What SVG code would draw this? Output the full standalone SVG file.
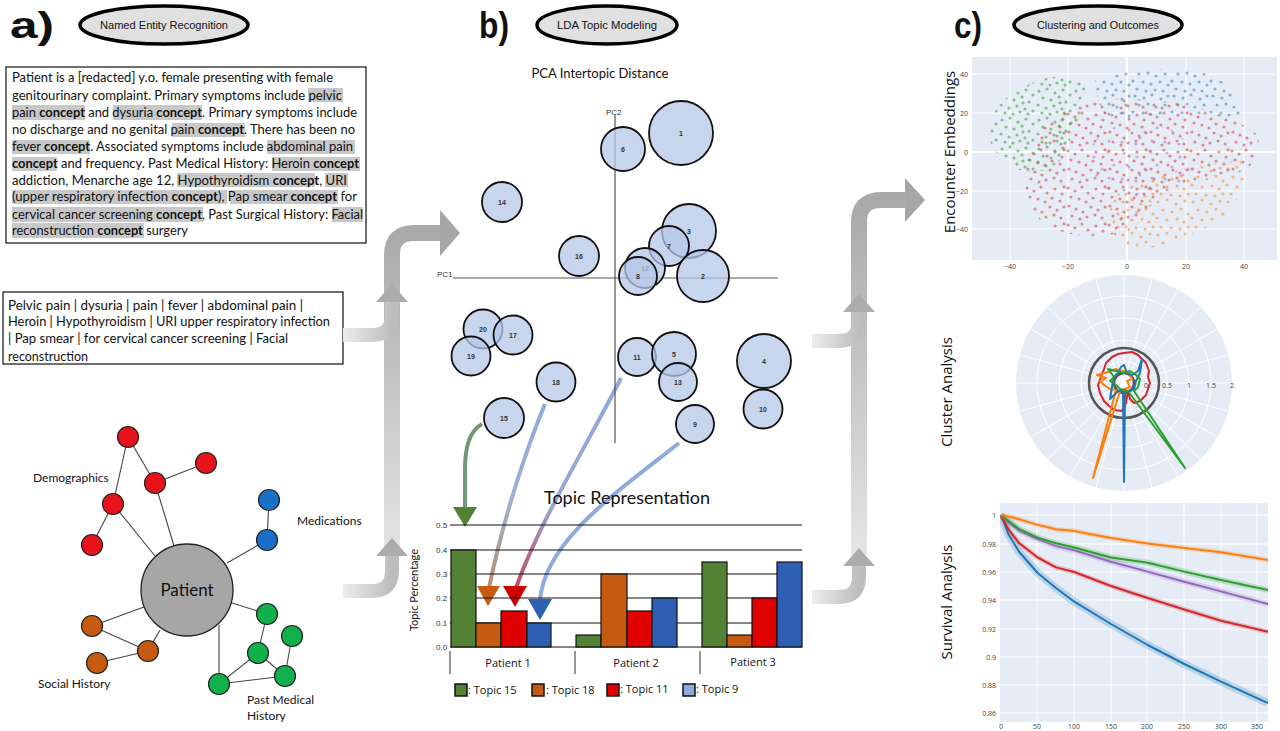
<svg xmlns="http://www.w3.org/2000/svg" width="1280" height="731" viewBox="0 0 1280 731">
<style>
.hdr{fill:#e0e0e0;stroke:#000;stroke-width:3.5}
.hdrt{font-family:"Liberation Sans",Arial,sans-serif;font-size:11px;fill:#111;text-anchor:middle}
.lbl{font-family:"Liberation Sans",Arial,sans-serif;font-size:36px;font-weight:bold;fill:#111}
.box{fill:#fff;stroke:#222;stroke-width:1.3}
.bt{font-family:Lato,"Liberation Sans",sans-serif;font-size:12.5px;fill:#111}
.b{font-weight:bold}
.hl{fill:#c8c8c8}
.edge{stroke:#444;stroke-width:1.1;fill:none}
.nd{stroke:#222;stroke-width:1.2}
.red{fill:#e8121b}.blu{fill:#1c6fc6}.org{fill:#c55a11}.grn{fill:#12b04c}
.nl{font-family:Lato,"Liberation Sans",sans-serif;font-size:12px;fill:#111}
.tc{fill:#b4c7e7;fill-opacity:0.75;stroke:#111;stroke-width:1.8}
.tn{font-family:"Liberation Sans",Arial,sans-serif;font-size:7px;fill:#333;text-anchor:middle;font-weight:bold}
.ax{stroke:#555;stroke-width:1.2}
.sm{font-family:"Liberation Sans",Arial,sans-serif;font-size:8px;fill:#333}
.gl{stroke:#111;stroke-width:1.2}
.bar{stroke:#111;stroke-width:1.2}
.pl{font-family:"Open Sans","Liberation Sans",sans-serif;font-size:11px;fill:#111;text-anchor:middle}
.lg{font-family:"Open Sans","Liberation Sans",sans-serif;font-size:11px;fill:#111}
.tick{font-family:"Open Sans","Liberation Sans",sans-serif;font-size:7px;fill:#444}
.ptitle{font-family:"Open Sans","Liberation Sans",sans-serif;font-size:15px;fill:#111;text-anchor:middle}
.wg{stroke:#fff;stroke-width:1}
.sv{fill:none;stroke-width:2;stroke-linejoin:round}
.band{fill:none;stroke-linejoin:round;stroke-opacity:0.22}
.rd{fill:none;stroke-width:2;stroke-linejoin:round}
</style>
<defs>
<linearGradient id="gColL" gradientUnits="userSpaceOnUse" x1="0" y1="560" x2="0" y2="230"><stop offset="0" stop-color="#e6e6e6"/><stop offset="1" stop-color="#a9a9a9"/></linearGradient>
<linearGradient id="gColR" gradientUnits="userSpaceOnUse" x1="0" y1="560" x2="0" y2="200"><stop offset="0" stop-color="#e6e6e6"/><stop offset="1" stop-color="#a9a9a9"/></linearGradient>
<linearGradient id="gFeedL" gradientUnits="userSpaceOnUse" x1="343" y1="0" x2="392" y2="0"><stop offset="0" stop-color="#ececec"/><stop offset="1" stop-color="#bdbdbd"/></linearGradient>
<linearGradient id="gFeedR" gradientUnits="userSpaceOnUse" x1="812" y1="0" x2="859" y2="0"><stop offset="0" stop-color="#ececec"/><stop offset="1" stop-color="#bdbdbd"/></linearGradient>
<linearGradient id="gOr" gradientUnits="userSpaceOnUse" x1="0" y1="404" x2="0" y2="590"><stop offset="0" stop-color="#8faadc"/><stop offset="0.55" stop-color="#9fb0d0"/><stop offset="1" stop-color="#c08a68"/></linearGradient>
<linearGradient id="gRe" gradientUnits="userSpaceOnUse" x1="0" y1="378" x2="0" y2="590"><stop offset="0" stop-color="#8faadc"/><stop offset="0.6" stop-color="#9aa6d0"/><stop offset="1" stop-color="#c0485a"/></linearGradient>
<pattern id="pG" width="37" height="29" patternUnits="userSpaceOnUse"><g fill="#2ca02c" fill-opacity="0.55"><circle cx="3" cy="4" r="1.6"/><circle cx="11" cy="2" r="1.6"/><circle cx="19" cy="6" r="1.6"/><circle cx="27" cy="3" r="1.6"/><circle cx="34" cy="8" r="1.6"/><circle cx="7" cy="11" r="1.6"/><circle cx="15" cy="13" r="1.6"/><circle cx="23" cy="10" r="1.6"/><circle cx="30" cy="15" r="1.6"/><circle cx="2" cy="18" r="1.6"/><circle cx="10" cy="21" r="1.6"/><circle cx="18" cy="19" r="1.6"/><circle cx="26" cy="22" r="1.6"/><circle cx="34" cy="24" r="1.6"/><circle cx="6" cy="26" r="1.6"/><circle cx="14" cy="27" r="1.6"/><circle cx="21" cy="25" r="1.6"/><circle cx="29" cy="27" r="1.6"/><circle cx="24" cy="16" r="1.6"/></g></pattern>
<pattern id="pB" width="39" height="31" patternUnits="userSpaceOnUse"><g fill="#1f77b4" fill-opacity="0.5"><circle cx="4" cy="3" r="1.6"/><circle cx="13" cy="5" r="1.6"/><circle cx="21" cy="2" r="1.6"/><circle cx="30" cy="6" r="1.6"/><circle cx="37" cy="3" r="1.6"/><circle cx="8" cy="12" r="1.6"/><circle cx="17" cy="11" r="1.6"/><circle cx="25" cy="14" r="1.6"/><circle cx="34" cy="12" r="1.6"/><circle cx="2" cy="19" r="1.6"/><circle cx="12" cy="20" r="1.6"/><circle cx="20" cy="22" r="1.6"/><circle cx="29" cy="20" r="1.6"/><circle cx="37" cy="23" r="1.6"/><circle cx="6" cy="27" r="1.6"/><circle cx="15" cy="29" r="1.6"/><circle cx="24" cy="28" r="1.6"/><circle cx="32" cy="29" r="1.6"/></g></pattern>
<pattern id="pR" width="41" height="37" patternUnits="userSpaceOnUse"><g fill="#d62728" fill-opacity="0.5"><circle cx="2" cy="3" r="1.6"/><circle cx="9" cy="6" r="1.6"/><circle cx="16" cy="2" r="1.6"/><circle cx="22" cy="8" r="1.6"/><circle cx="30" cy="4" r="1.6"/><circle cx="37" cy="9" r="1.6"/><circle cx="5" cy="12" r="1.6"/><circle cx="13" cy="14" r="1.6"/><circle cx="20" cy="17" r="1.6"/><circle cx="27" cy="13" r="1.6"/><circle cx="35" cy="16" r="1.6"/><circle cx="3" cy="21" r="1.6"/><circle cx="10" cy="24" r="1.6"/><circle cx="17" cy="27" r="1.6"/><circle cx="25" cy="22" r="1.6"/><circle cx="32" cy="25" r="1.6"/><circle cx="39" cy="22" r="1.6"/><circle cx="6" cy="31" r="1.6"/><circle cx="14" cy="34" r="1.6"/><circle cx="21" cy="32" r="1.6"/><circle cx="29" cy="30" r="1.6"/><circle cx="36" cy="33" r="1.6"/><circle cx="39" cy="1.8" r="1.6"/></g></pattern>
<pattern id="pO" width="35" height="33" patternUnits="userSpaceOnUse"><g fill="#ff7f0e" fill-opacity="0.5"><circle cx="3" cy="4" r="1.6"/><circle cx="12" cy="2" r="1.6"/><circle cx="21" cy="6" r="1.6"/><circle cx="30" cy="3" r="1.6"/><circle cx="8" cy="12" r="1.6"/><circle cx="17" cy="14" r="1.6"/><circle cx="26" cy="11" r="1.6"/><circle cx="33" cy="16" r="1.6"/><circle cx="2" cy="20" r="1.6"/><circle cx="12" cy="22" r="1.6"/><circle cx="22" cy="21" r="1.6"/><circle cx="29" cy="24" r="1.6"/><circle cx="6" cy="29" r="1.6"/><circle cx="16" cy="30" r="1.6"/><circle cx="25" cy="31" r="1.6"/><circle cx="33" cy="29" r="1.6"/></g></pattern>
<pattern id="pP" width="43" height="37" patternUnits="userSpaceOnUse"><g fill="#9467bd" fill-opacity="0.45"><circle cx="6" cy="5" r="1.6"/><circle cx="19" cy="9" r="1.6"/><circle cx="33" cy="4" r="1.6"/><circle cx="11" cy="19" r="1.6"/><circle cx="27" cy="21" r="1.6"/><circle cx="39" cy="17" r="1.6"/><circle cx="4" cy="31" r="1.6"/><circle cx="18" cy="33" r="1.6"/><circle cx="34" cy="30" r="1.6"/><circle cx="22" cy="27" r="1.6"/></g></pattern>
<clipPath id="scClip"><rect x="972" y="57" width="305" height="203"/></clipPath>
<clipPath id="svClip"><rect x="1000" y="503" width="268" height="219"/></clipPath>
</defs>

<rect x="0" y="0" width="1280" height="731" fill="#fff"/>

<!-- Headers -->
<g id="header-a">
<text class="lbl" x="10" y="38" textLength="44" lengthAdjust="spacingAndGlyphs">a)</text>
<ellipse class="hdr" cx="164" cy="25" rx="84" ry="19"/>
<text class="hdrt" x="164" y="29" textLength="128" lengthAdjust="spacingAndGlyphs">Named Entity Recognition</text>
</g>
<g id="header-b">
<text class="lbl" x="479" y="38" textLength="30" lengthAdjust="spacingAndGlyphs">b)</text>
<ellipse class="hdr" cx="607" cy="25" rx="70" ry="19"/>
<text class="hdrt" x="607" y="29" textLength="100" lengthAdjust="spacingAndGlyphs">LDA Topic Modeling</text>
</g>
<g id="header-c">
<text class="lbl" x="954" y="38" textLength="28" lengthAdjust="spacingAndGlyphs">c)</text>
<ellipse class="hdr" cx="1098" cy="25" rx="84" ry="19"/>
<text class="hdrt" x="1098" y="29" textLength="122" lengthAdjust="spacingAndGlyphs">Clustering and Outcomes</text>
</g>

<!-- Clinical note text box -->
<g id="note-box">
<rect class="box" x="6" y="67" width="360" height="176"/>
<rect class="hl" x="308" y="88" width="35" height="14"/>
<rect class="hl" x="12" y="105" width="73" height="15"/>
<rect class="hl" x="113" y="105" width="89" height="15"/>
<rect class="hl" x="172" y="123" width="73" height="14"/>
<rect class="hl" x="12" y="140" width="78" height="14"/>
<rect class="hl" x="267" y="140" width="88" height="14"/>
<rect class="hl" x="12" y="157" width="45" height="14"/>
<rect class="hl" x="272" y="157" width="88" height="14"/>
<rect class="hl" x="177" y="173" width="138" height="14"/>
<rect class="hl" x="325" y="173" width="23" height="14"/>
<rect class="hl" x="12" y="190" width="215" height="14"/>
<rect class="hl" x="230" y="190" width="108" height="14"/>
<rect class="hl" x="12" y="207" width="191" height="15"/>
<rect class="hl" x="332" y="207" width="31" height="15"/>
<rect class="hl" x="12" y="223" width="132" height="15"/>
<text class="bt" x="12" y="82" textLength="321" lengthAdjust="spacingAndGlyphs">Patient is a [redacted] y.o. female presenting with female</text>
<text class="bt" x="12" y="99.5" textLength="330" lengthAdjust="spacingAndGlyphs">genitourinary complaint. Primary symptoms include  pelvic</text>
<text class="bt" x="12" y="117" textLength="345" lengthAdjust="spacingAndGlyphs">pain <tspan class="b">concept</tspan> and dysuria <tspan class="b">concept</tspan>. Primary symptoms include</text>
<text class="bt" x="12" y="134" textLength="343" lengthAdjust="spacingAndGlyphs">no discharge and no genital pain <tspan class="b">concept</tspan>. There has been no</text>
<text class="bt" x="12" y="151" textLength="341" lengthAdjust="spacingAndGlyphs">fever <tspan class="b">concept</tspan>. Associated symptoms include abdominal pain</text>
<text class="bt" x="12" y="168" textLength="347" lengthAdjust="spacingAndGlyphs"><tspan class="b">concept</tspan> and frequency. Past Medical History: Heroin <tspan class="b">concept</tspan></text>
<text class="bt" x="12" y="184.5" textLength="335" lengthAdjust="spacingAndGlyphs">addiction, Menarche age 12, Hypothyroidism <tspan class="b">concept</tspan>, URI</text>
<text class="bt" x="12" y="201" textLength="345" lengthAdjust="spacingAndGlyphs">(upper respiratory infection <tspan class="b">concept</tspan>), Pap smear <tspan class="b">concept</tspan> for</text>
<text class="bt" x="12" y="218.5" textLength="351" lengthAdjust="spacingAndGlyphs">cervical cancer screening <tspan class="b">concept</tspan>, Past Surgical History: Facial</text>
<text class="bt" x="12" y="235" textLength="176" lengthAdjust="spacingAndGlyphs">reconstruction <tspan class="b">concept</tspan> surgery</text>
</g>

<!-- Concept list box -->
<g id="concept-box">
<rect class="box" x="3" y="292" width="340" height="72"/>
<text class="bt" x="8" y="309.5" textLength="295" lengthAdjust="spacingAndGlyphs">Pelvic pain | dysuria | pain | fever | abdominal pain |</text>
<text class="bt" x="8" y="326" textLength="322" lengthAdjust="spacingAndGlyphs">Heroin | Hypothyroidism | URI upper respiratory infection</text>
<text class="bt" x="8" y="343" textLength="280" lengthAdjust="spacingAndGlyphs">| Pap smear | for cervical cancer screening | Facial</text>
<text class="bt" x="8" y="360.5" textLength="80" lengthAdjust="spacingAndGlyphs">reconstruction</text>
</g>

<!-- Patient graph -->
<g id="patient-graph">
<g class="edges">
<line class="edge" x1="128" y1="437" x2="155" y2="483"/>
<line class="edge" x1="128" y1="437" x2="113" y2="504"/>
<line class="edge" x1="155" y1="483" x2="206" y2="463"/>
<line class="edge" x1="155" y1="483" x2="174" y2="546"/>
<line class="edge" x1="113" y1="504" x2="92" y2="545"/>
<line class="edge" x1="113" y1="504" x2="155" y2="556"/>
<line class="edge" x1="269" y1="500" x2="267" y2="540"/>
<line class="edge" x1="267" y1="540" x2="227" y2="563"/>
<line class="edge" x1="144" y1="607" x2="92" y2="626"/>
<line class="edge" x1="160" y1="630" x2="148" y2="651"/>
<line class="edge" x1="92" y1="626" x2="148" y2="651"/>
<line class="edge" x1="97" y1="663" x2="148" y2="651"/>
<line class="edge" x1="232" y1="603" x2="267" y2="614"/>
<line class="edge" x1="267" y1="614" x2="258" y2="653"/>
<line class="edge" x1="219" y1="625" x2="219" y2="684"/>
<line class="edge" x1="258" y1="653" x2="219" y2="684"/>
<line class="edge" x1="258" y1="653" x2="285" y2="676"/>
<line class="edge" x1="292" y1="636" x2="285" y2="676"/>
<line class="edge" x1="219" y1="684" x2="285" y2="676"/>
</g>
<g id="node-patient"><circle cx="187" cy="590" r="46" fill="#a6a6a6" stroke="#222" stroke-width="1.3"/><text x="187" y="596" font-family="Lato,'Liberation Sans',sans-serif" font-size="17" fill="#111" text-anchor="middle">Patient</text></g>
<g id="node-demo"><circle class="nd red" cx="128" cy="437" r="10.5"/><circle class="nd red" cx="206" cy="463" r="10.5"/><circle class="nd red" cx="155" cy="483" r="10.5"/><circle class="nd red" cx="113" cy="504" r="10.5"/><circle class="nd red" cx="92" cy="545" r="10.5"/></g>
<g id="node-meds"><circle class="nd blu" cx="269" cy="500" r="10.5"/><circle class="nd blu" cx="267" cy="540" r="10.5"/></g>
<g id="node-social"><circle class="nd org" cx="92" cy="626" r="10.5"/><circle class="nd org" cx="148" cy="651" r="10.5"/><circle class="nd org" cx="97" cy="663" r="10.5"/></g>
<g id="node-pmh"><circle class="nd grn" cx="267" cy="614" r="10.5"/><circle class="nd grn" cx="292" cy="636" r="10.5"/><circle class="nd grn" cx="258" cy="653" r="10.5"/><circle class="nd grn" cx="285" cy="676" r="10.5"/><circle class="nd grn" cx="219" cy="684" r="10.5"/></g>
<text class="nl" x="33" y="482">Demographics</text>
<text class="nl" x="297" y="525">Medications</text>
<text class="nl" x="38" y="688">Social History</text>
<text class="nl" x="247" y="704">Past Medical</text>
<text class="nl" x="247" y="720">History</text>
</g>

<!-- Connectors -->
<g id="connectors">
<g id="flow-left">
<path d="M392,548 L392,255 Q392,233 414,233 L442,233" fill="none" stroke="url(#gColL)" stroke-width="16"/>
<polygon points="440,210 460,233 440,256" fill="#a6a6a6"/>
<path d="M343,335 L372,335 Q392,335 392,315 L392,302" fill="none" stroke="url(#gFeedL)" stroke-width="14"/>
<polygon points="376,302 392,284 408,302" fill="#acacac"/>
<path d="M343,591 L372,591 Q392,591 392,571 L392,556" fill="none" stroke="url(#gFeedL)" stroke-width="14"/>
<polygon points="376,556 392,538 408,556" fill="#acacac"/>
</g>
<g id="flow-right">
<path d="M859,555 L859,222 Q859,200 881,200 L907,200" fill="none" stroke="url(#gColR)" stroke-width="16"/>
<polygon points="905,178 925,200 905,222" fill="#a6a6a6"/>
<path d="M812,341 L839,341 Q859,341 859,321 L859,312" fill="none" stroke="url(#gFeedR)" stroke-width="14"/>
<polygon points="843,312 859,294 875,312" fill="#acacac"/>
<path d="M812,597 L839,597 Q859,597 859,577 L859,566" fill="none" stroke="url(#gFeedR)" stroke-width="14"/>
<polygon points="843,566 859,548 875,566" fill="#acacac"/>
</g>
<g id="topic-arrows">
<path d="M482,424 C468,432 465,450 465,470 L465,508" fill="none" stroke="#6f9877" stroke-width="4"/>
<polygon points="453,507 477,507 465,527" fill="#548235"/>
<path d="M545,404 C530,440 505,510 489,588" fill="none" stroke="url(#gOr)" stroke-width="4"/>
<polygon points="477,586 500,586 488,606" fill="#c55a11"/>
<path d="M621,378 C590,440 540,520 516,588" fill="none" stroke="url(#gRe)" stroke-width="4"/>
<polygon points="503,586 527,586 515,607" fill="#d00000"/>
<path d="M679,443 C620,490 545,540 540,600" fill="none" stroke="#8faadc" stroke-width="4"/>
<polygon points="528,599 552,599 540,620" fill="#2f5fb3"/>
</g>
</g>

<!-- PCA plot -->
<g id="pca-plot">
<text x="600" y="78" font-family="Lato,'Liberation Sans',sans-serif" font-size="13" fill="#111" text-anchor="middle">PCA Intertopic Distance</text>
<line class="ax" x1="615" y1="115" x2="615" y2="443"/>
<line class="ax" x1="453" y1="278" x2="778" y2="278"/>
<text class="sm" x="606" y="115" font-size="7">PC2</text>
<text class="sm" x="437" y="277" font-size="7">PC1</text>
<g id="topic-circles">
<circle class="tc" cx="681" cy="133" r="32"/><text class="tn" x="681" y="136">1</text>
<circle class="tc" cx="623" cy="149" r="22"/><text class="tn" x="623" y="152">6</text>
<circle class="tc" cx="502" cy="202" r="20"/><text class="tn" x="502" y="205">14</text>
<circle class="tc" cx="689" cy="231" r="27"/><text class="tn" x="689" y="234">3</text>
<circle class="tc" cx="669" cy="246" r="20"/><text class="tn" x="669" y="249">7</text>
<circle class="tc" cx="579" cy="256" r="20"/><text class="tn" x="579" y="259">16</text>
<circle class="tc" cx="645" cy="268" r="20"/><text class="tn" x="645" y="271">12</text>
<circle class="tc" cx="638" cy="276" r="19"/><text class="tn" x="638" y="279">8</text>
<circle class="tc" cx="703" cy="276" r="26"/><text class="tn" x="703" y="279">2</text>
<circle class="tc" cx="483" cy="329" r="19.5"/><text class="tn" x="483" y="332">20</text>
<circle class="tc" cx="513" cy="335" r="19.5"/><text class="tn" x="513" y="338">17</text>
<circle class="tc" cx="471" cy="356" r="19.5"/><text class="tn" x="471" y="359">19</text>
<circle class="tc" cx="637" cy="357" r="19"/><text class="tn" x="637" y="360">11</text>
<circle class="tc" cx="674" cy="354" r="22"/><text class="tn" x="674" y="357">5</text>
<circle class="tc" cx="678" cy="382" r="19"/><text class="tn" x="678" y="385">13</text>
<circle class="tc" cx="764" cy="361" r="27"/><text class="tn" x="764" y="364">4</text>
<circle class="tc" cx="763" cy="409" r="19.5"/><text class="tn" x="763" y="412">10</text>
<circle class="tc" cx="556" cy="382" r="19.5"/><text class="tn" x="556" y="385">18</text>
<circle class="tc" cx="504" cy="418" r="20"/><text class="tn" x="504" y="421">15</text>
<circle class="tc" cx="695" cy="424" r="19"/><text class="tn" x="695" y="427">9</text>
</g>
</g>

<!-- Bar chart -->
<g id="bar-chart">
<text x="627" y="504" font-family="Lato,'Liberation Sans',sans-serif" font-size="18" fill="#111" text-anchor="middle">Topic Representation</text>
<g class="grid">
<line class="gl" x1="450" y1="525" x2="802" y2="525"/>
<line class="gl" x1="450" y1="550" x2="802" y2="550"/>
<line class="gl" x1="450" y1="574" x2="802" y2="574"/>
<line class="gl" x1="450" y1="598" x2="802" y2="598"/>
<line class="gl" x1="450" y1="623" x2="802" y2="623"/>
<line class="gl" x1="450" y1="647" x2="802" y2="647"/>
</g>
<text class="sm" x="436" y="528">0.5</text>
<text class="sm" x="436" y="553">0.4</text>
<text class="sm" x="436" y="577">0.3</text>
<text class="sm" x="436" y="601">0.2</text>
<text class="sm" x="436" y="626">0.1</text>
<text class="sm" x="436" y="650">0.0</text>
<text x="418" y="590" transform="rotate(-90 418 590)" font-family="Lato,'Liberation Sans',sans-serif" font-size="11" fill="#111" text-anchor="middle">Topic Percentage</text>
<rect class="bar" x="451" y="550" width="25" height="97" fill="#548235"/>
<rect class="bar" x="476" y="623" width="25" height="24" fill="#c55a11"/>
<rect class="bar" x="501" y="611" width="26" height="36" fill="#e00000"/>
<rect class="bar" x="527" y="623" width="24" height="24" fill="#2f5fb3"/>
<rect class="bar" x="576" y="635" width="25" height="12" fill="#548235"/>
<rect class="bar" x="601" y="574" width="26" height="73" fill="#c55a11"/>
<rect class="bar" x="627" y="611" width="25" height="36" fill="#e00000"/>
<rect class="bar" x="652" y="598" width="25" height="49" fill="#2f5fb3"/>
<rect class="bar" x="702" y="562" width="25" height="85" fill="#548235"/>
<rect class="bar" x="727" y="635" width="25" height="12" fill="#c55a11"/>
<rect class="bar" x="752" y="598" width="25" height="49" fill="#e00000"/>
<rect class="bar" x="777" y="562" width="25" height="85" fill="#2f5fb3"/>
<line class="ax" x1="450" y1="651" x2="450" y2="674" stroke="#333"/>
<line class="ax" x1="575" y1="651" x2="575" y2="674" stroke="#333"/>
<line class="ax" x1="700" y1="651" x2="700" y2="674" stroke="#333"/>
<text class="pl" x="508" y="667">Patient 1</text>
<text class="pl" x="636" y="667">Patient 2</text>
<text class="pl" x="753" y="666">Patient 3</text>
<g id="legend">
<rect x="455" y="684" width="12" height="12" fill="#548235" stroke="#111" stroke-width="1.5"/>
<text class="lg" x="468" y="694">: Topic 15</text>
<rect x="532" y="684" width="12" height="12" fill="#c55a11" stroke="#111" stroke-width="1.5"/>
<text class="lg" x="546" y="694">: Topic 18</text>
<rect x="607" y="684" width="12" height="12" fill="#e00000" stroke="#111" stroke-width="1.5"/>
<text class="lg" x="620" y="693">: Topic 11</text>
<rect x="683" y="684" width="12" height="12" fill="#8faadc" stroke="#111" stroke-width="1.5"/>
<text class="lg" x="696" y="693">: Topic 9</text>
</g>
</g>

<!-- Scatter: Encounter Embeddings -->
<g id="scatter">
<rect x="972" y="57" width="305" height="203" fill="#e5ecf6"/>
<g class="wg">
<line x1="1010" y1="57" x2="1010" y2="260"/><line x1="1068" y1="57" x2="1068" y2="260"/><line x1="1127" y1="57" x2="1127" y2="260" stroke-width="2"/><line x1="1186" y1="57" x2="1186" y2="260"/><line x1="1244" y1="57" x2="1244" y2="260"/>
<line x1="972" y1="74" x2="1277" y2="74"/><line x1="972" y1="113" x2="1277" y2="113"/><line x1="972" y1="152" x2="1277" y2="152" stroke-width="2"/><line x1="972" y1="191" x2="1277" y2="191"/><line x1="972" y1="229" x2="1277" y2="229"/>
</g>
<g clip-path="url(#scClip)">
<path d="M1025,170 C1030,130 1060,105 1100,100 C1150,95 1220,105 1258,135 C1262,160 1250,175 1220,175 C1180,180 1150,200 1130,230 C1100,240 1060,238 1040,220 C1028,205 1024,190 1025,170 Z" fill="url(#pR)"/>
<path d="M990,140 C985,110 1010,90 1040,80 C1060,74 1080,75 1085,85 C1085,110 1075,130 1062,158 C1048,175 1030,172 1020,170 C1000,160 992,150 990,140 Z" fill="url(#pG)"/>
<path d="M1095,80 C1110,70 1160,66 1200,72 C1230,78 1240,100 1245,120 L1230,118 C1200,110 1150,115 1110,120 C1100,110 1095,95 1095,80 Z" fill="url(#pB)"/>
<path d="M1112,200 C1130,178 1180,168 1240,160 C1250,175 1240,200 1225,215 C1200,235 1160,250 1130,250 C1112,245 1106,222 1112,200 Z" fill="url(#pO)"/>
<ellipse cx="1140" cy="160" rx="52" ry="38" fill="url(#pP)"/>
</g>
<text class="tick" x="968" y="77" text-anchor="end">40</text>
<text class="tick" x="968" y="116" text-anchor="end">20</text>
<text class="tick" x="968" y="155" text-anchor="end">0</text>
<text class="tick" x="968" y="194" text-anchor="end">−20</text>
<text class="tick" x="968" y="232" text-anchor="end">−40</text>
<text class="tick" x="1010" y="269" text-anchor="middle">−40</text>
<text class="tick" x="1068" y="269" text-anchor="middle">−20</text>
<text class="tick" x="1127" y="269" text-anchor="middle">0</text>
<text class="tick" x="1186" y="269" text-anchor="middle">20</text>
<text class="tick" x="1244" y="269" text-anchor="middle">40</text>
<text class="ptitle" x="955" y="152" transform="rotate(-90 955 152)">Encounter Embeddings</text>
</g>

<!-- Radar: Cluster Analysis -->
<g id="radar">
<circle cx="1124" cy="383" r="108" fill="#e5ecf6"/>
<g class="wg" fill="none">
<circle cx="1124" cy="383" r="87"/><circle cx="1124" cy="383" r="65"/><circle cx="1124" cy="383" r="43"/><circle cx="1124" cy="383" r="22"/>
<line x1="1232" y1="383" x2="1016" y2="383"/>
<line x1="1228.3" y1="411" x2="1019.7" y2="355"/>
<line x1="1217.5" y1="437" x2="1030.5" y2="329"/>
<line x1="1200.4" y1="459.4" x2="1047.6" y2="306.6"/>
<line x1="1178" y1="476.5" x2="1070" y2="289.5"/>
<line x1="1152" y1="487.3" x2="1096" y2="278.7"/>
<line x1="1124" y1="491" x2="1124" y2="275"/>
<line x1="1096" y1="487.3" x2="1152" y2="278.7"/>
<line x1="1070" y1="476.5" x2="1178" y2="289.5"/>
<line x1="1047.6" y1="459.4" x2="1200.4" y2="306.6"/>
<line x1="1030.5" y1="437" x2="1217.5" y2="329"/>
<line x1="1019.7" y1="411" x2="1228.3" y2="355"/>
</g>
<circle cx="1124" cy="383" r="35" fill="none" stroke="#555" stroke-width="2.5"/>
<circle cx="1124" cy="383" r="10" fill="none" stroke="#555" stroke-width="2.5"/>
<polygon class="rd" stroke="#d62728" points="1124,353 1132,352 1138,355 1142,359 1146,363 1149,371 1148,377 1150,383 1148,389 1146,395 1140,401 1134,403 1130,399 1128,391 1126,403 1122,411 1114,410 1108,405 1104,401 1100,393 1098,385 1101,377 1104,369 1106,363 1112,357 1118,354"/>
<polygon class="rd" stroke="#ff7f0e" points="1124,371 1129,373 1132,379 1127,381 1130,387 1125,389 1120,391 1093,478 1116,390 1110,389 1104,385 1100,381 1106,378 1097,375 1108,372 1116,369 1120,371"/>
<polygon class="rd" stroke="#1f77b4" points="1124,365 1127,373 1132,375 1138,371 1142,359 1140,373 1136,381 1134,389 1128,391 1125,391 1124,482 1123,391 1118,391 1110,399 1112,387 1114,377 1118,373 1121,367"/>
<polygon class="rd" stroke="#2ca02c" points="1108,369 1116,371 1124,373 1130,371 1136,375 1140,379 1138,387 1134,391 1185,468 1128,391 1120,389 1116,385 1110,381 1114,377"/>
<text class="tick" x="1146" y="388" text-anchor="middle">0</text>
<text class="tick" x="1167" y="388" text-anchor="middle">0.5</text>
<text class="tick" x="1189" y="388" text-anchor="middle">1</text>
<text class="tick" x="1211" y="388" text-anchor="middle">1.5</text>
<text class="tick" x="1232" y="388" text-anchor="middle">2</text>
<text class="ptitle" x="952" y="392" transform="rotate(-90 952 392)">Cluster Analysis</text>
</g>

<!-- Survival Analysis -->
<g id="survival">
<rect x="1000" y="503" width="268" height="219" fill="#e5ecf6"/>
<g class="wg">
<line x1="1000" y1="515" x2="1268" y2="515"/><line x1="1000" y1="544" x2="1268" y2="544"/><line x1="1000" y1="572" x2="1268" y2="572"/><line x1="1000" y1="600" x2="1268" y2="600"/><line x1="1000" y1="629" x2="1268" y2="629"/><line x1="1000" y1="657" x2="1268" y2="657"/><line x1="1000" y1="685" x2="1268" y2="685"/><line x1="1000" y1="713" x2="1268" y2="713"/>
<line x1="1037" y1="503" x2="1037" y2="722"/><line x1="1074" y1="503" x2="1074" y2="722"/><line x1="1111" y1="503" x2="1111" y2="722"/><line x1="1147" y1="503" x2="1147" y2="722"/><line x1="1184" y1="503" x2="1184" y2="722"/><line x1="1221" y1="503" x2="1221" y2="722"/><line x1="1257" y1="503" x2="1257" y2="722"/>
</g>
<g clip-path="url(#svClip)">
<path class="band" stroke="#1f77b4" stroke-width="8" d="M1001,515 L1008.3,534 L1019.3,552 L1037.7,573 L1056,588 L1074.3,601.7 L1111,624 L1147.7,645 L1184.3,664 L1221,681.7 L1268,703"/>
<path class="band" stroke="#d62728" stroke-width="5" d="M1001,515 L1008.3,529.2 L1019.3,543.3 L1037.7,557.5 L1056,567.4 L1074.3,572 L1111,586 L1147.7,598 L1184.3,609.5 L1221,620.7 L1268,631.7"/>
<path class="band" stroke="#9467bd" stroke-width="6" d="M1001,515 L1008.3,522.1 L1019.3,530.6 L1037.7,539.1 L1056,546.1 L1074.3,550.4 L1111,561.7 L1147.7,571.6 L1184.3,581.7 L1221,591.4 L1268,604"/>
<path class="band" stroke="#2ca02c" stroke-width="6" d="M1001,515 L1008.3,520.7 L1019.3,529.2 L1037.7,537.6 L1056,543.3 L1074.3,547.5 L1111,557.5 L1147.7,562.7 L1184.3,571.6 L1221,580 L1268,590"/>
<path class="band" stroke="#ff7f0e" stroke-width="5" d="M1001,515 L1008.3,516.4 L1019.3,519.2 L1037.7,524.9 L1056,529.2 L1074.3,531 L1111,538 L1147.7,543.5 L1184.3,548 L1221,552.3 L1268,560"/>
<path class="sv" stroke="#1f77b4" d="M1001,515 L1008.3,534 L1019.3,552 L1037.7,573 L1056,588 L1074.3,601.7 L1111,624 L1147.7,645 L1184.3,664 L1221,681.7 L1268,703"/>
<path class="sv" stroke="#d62728" d="M1001,515 L1008.3,529.2 L1019.3,543.3 L1037.7,557.5 L1056,567.4 L1074.3,572 L1111,586 L1147.7,598 L1184.3,609.5 L1221,620.7 L1268,631.7"/>
<path class="sv" stroke="#9467bd" d="M1001,515 L1008.3,522.1 L1019.3,530.6 L1037.7,539.1 L1056,546.1 L1074.3,550.4 L1111,561.7 L1147.7,571.6 L1184.3,581.7 L1221,591.4 L1268,604"/>
<path class="sv" stroke="#2ca02c" d="M1001,515 L1008.3,520.7 L1019.3,529.2 L1037.7,537.6 L1056,543.3 L1074.3,547.5 L1111,557.5 L1147.7,562.7 L1184.3,571.6 L1221,580 L1268,590"/>
<path class="sv" stroke="#ff7f0e" d="M1001,515 L1008.3,516.4 L1019.3,519.2 L1037.7,524.9 L1056,529.2 L1074.3,531 L1111,538 L1147.7,543.5 L1184.3,548 L1221,552.3 L1268,560"/>
</g>
<text class="tick" x="996" y="518" text-anchor="end">1</text>
<text class="tick" x="996" y="547" text-anchor="end">0.98</text>
<text class="tick" x="996" y="575" text-anchor="end">0.96</text>
<text class="tick" x="996" y="603" text-anchor="end">0.94</text>
<text class="tick" x="996" y="632" text-anchor="end">0.92</text>
<text class="tick" x="996" y="660" text-anchor="end">0.9</text>
<text class="tick" x="996" y="688" text-anchor="end">0.88</text>
<text class="tick" x="996" y="716" text-anchor="end">0.86</text>
<text class="tick" x="1001" y="729" text-anchor="middle">0</text>
<text class="tick" x="1037" y="729" text-anchor="middle">50</text>
<text class="tick" x="1074" y="729" text-anchor="middle">100</text>
<text class="tick" x="1111" y="729" text-anchor="middle">150</text>
<text class="tick" x="1147" y="729" text-anchor="middle">200</text>
<text class="tick" x="1184" y="729" text-anchor="middle">250</text>
<text class="tick" x="1221" y="729" text-anchor="middle">300</text>
<text class="tick" x="1257" y="729" text-anchor="middle">350</text>
<text class="ptitle" x="952" y="602" transform="rotate(-90 952 602)">Survival Analysis</text>
</g>
</svg>
